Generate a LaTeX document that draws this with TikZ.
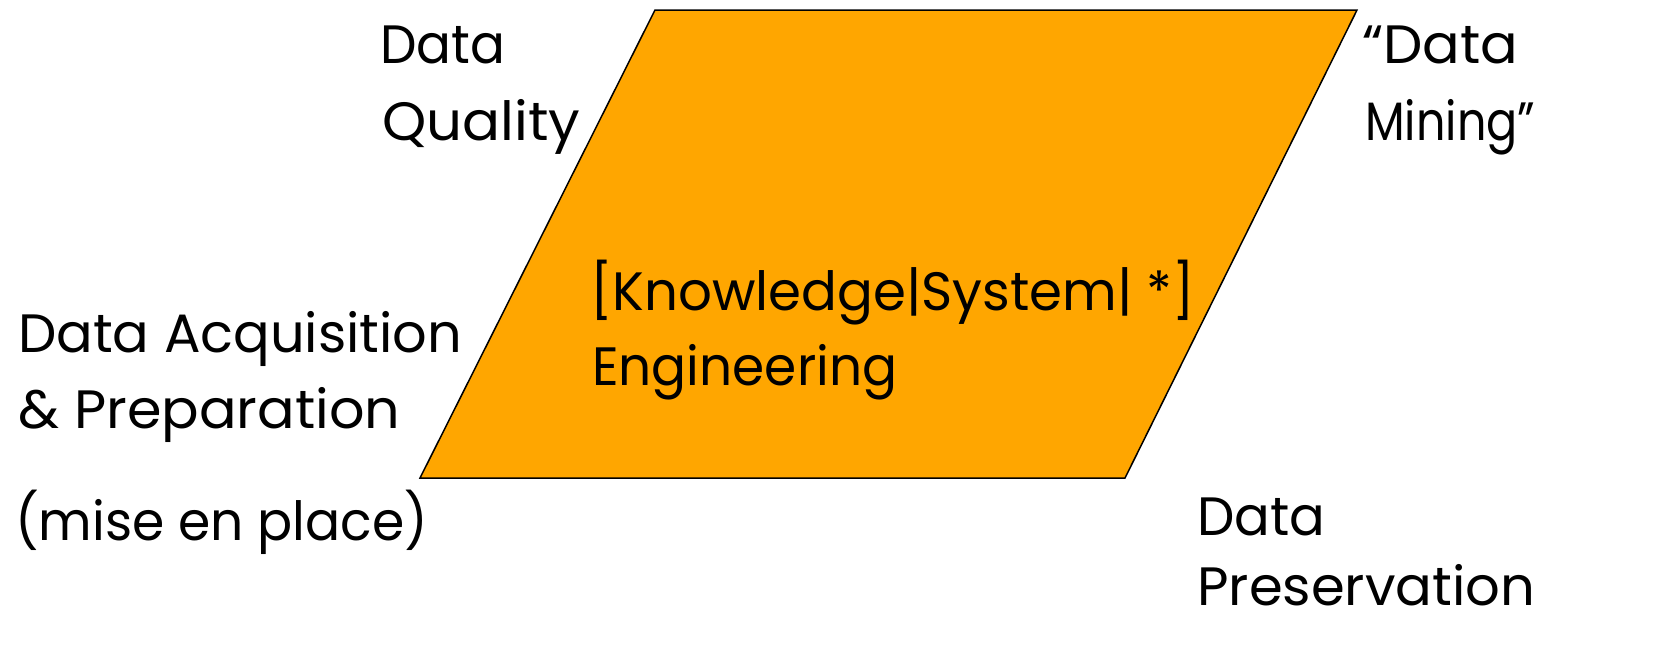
\documentclass[tikz,border=0pt]{standalone}
\usepackage{fontspec}
\setmainfont{Poppins}
\usepackage{graphicx}
\definecolor{para}{RGB}{255,166,0}
\newcommand{\fw}[2]{\resizebox{#1pt}{\height}{#2}}
\begin{document}
\begin{tikzpicture}[x=1pt,y=-1pt,
  lbl/.style={anchor=base west,inner sep=0pt,font=\fontsize{54}{60}\selectfont}]
\useasboundingbox (0,0) rectangle (1657,648);
\coordinate (tl) at (655,10);
\coordinate (tr) at (1357,10);
\coordinate (br) at (1125,478);
\coordinate (bl) at (420,478);
\draw[fill=para,line width=1.5pt,line join=miter] (tl) -- (tr) -- (br) -- (bl) -- cycle;
\node[lbl] (dq1) at (380,63) {\fw{125}{Data}};
\node[lbl] (dq2) at (382,140) {\fw{198}{Quality}};
\node[lbl] (dm1) at (1362,63) {\fw{156}{“Data}};
\node[lbl] (dm2) at (1365,140) {\fw{170}{Mining”}};
\node[lbl] (da1) at (18,352) {\fw{444}{Data Acquisition}};
\node[lbl] (da2) at (18,428) {\fw{382}{\& Preparation}};
\node[lbl] (da3) at (15,540) {\fw{413}{(mise en place)}};
\node[lbl] (ke1) at (590,310) {\fw{605}{[Knowledge|System| *]}};
\node[lbl] (ke2) at (592,385) {\fw{305}{Engineering}};
\node[lbl] (dp1) at (1197,535) {\fw{128}{Data}};
\node[lbl] (dp2) at (1197,605) {\fw{338}{Preservation}};
\end{tikzpicture}
\end{document}
